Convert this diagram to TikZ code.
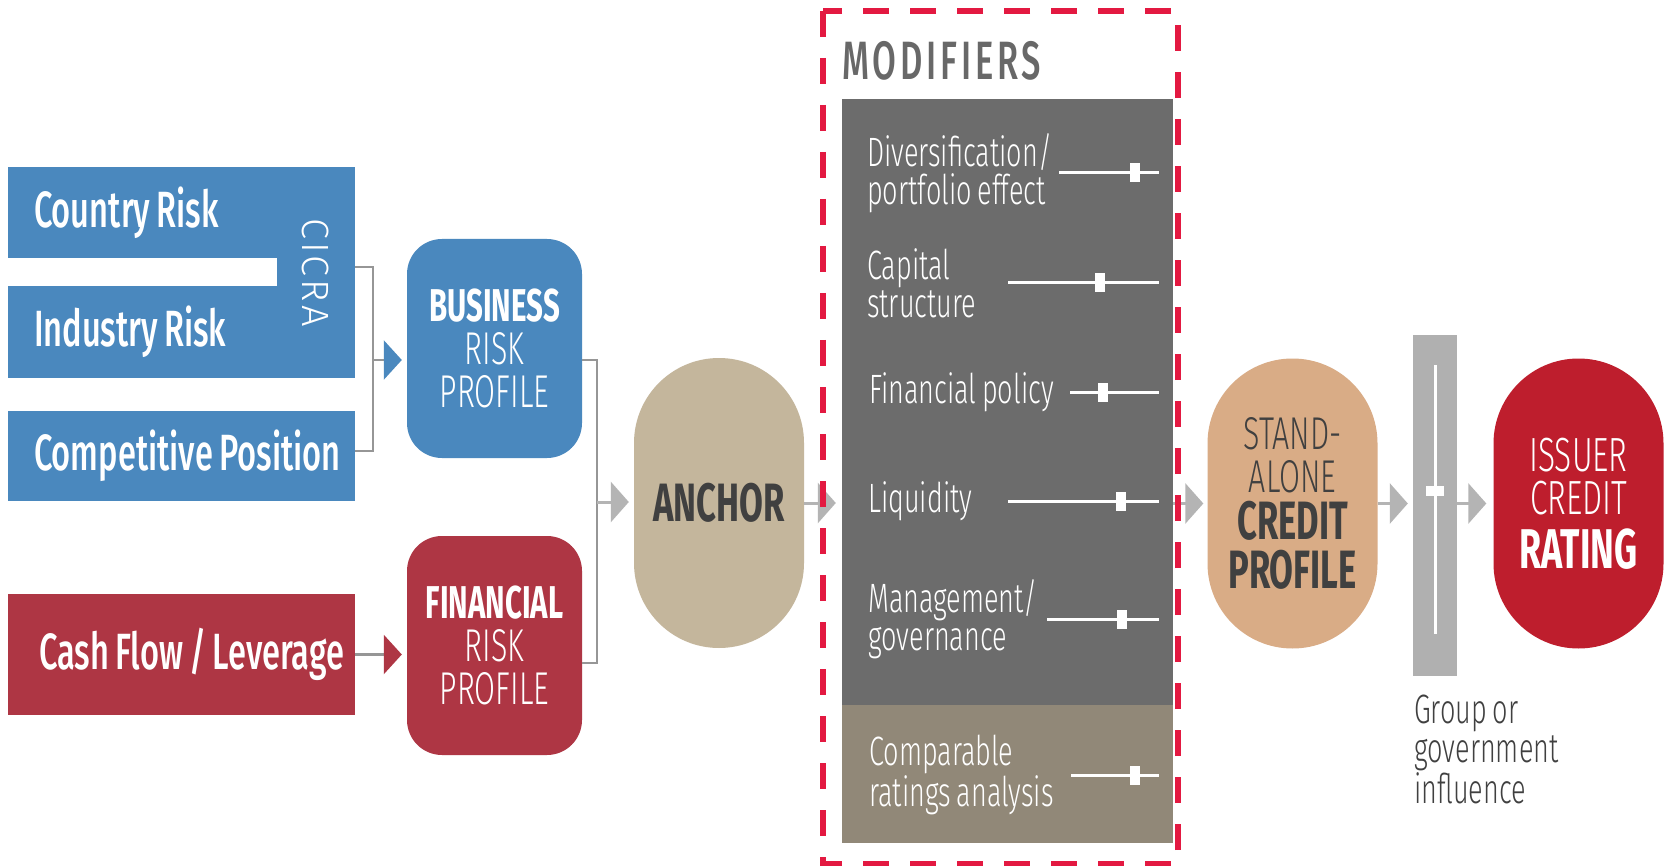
\documentclass[tikz,border=0pt]{standalone}
\usepackage{fontspec}
\setmainfont{Fira Sans}[FakeStretch=0.64, WordSpace=0.75]
\newfontfamily\thinf{Fira Sans Light}[FakeStretch=0.66, WordSpace=0.75]
\newfontfamily\midf{Fira Sans Medium}[FakeStretch=0.64, WordSpace=0.75]
\newfontfamily\wideth{Fira Sans Light}
\newcommand{\boldcond}{\normalfont\bfseries}
\usetikzlibrary{arrows.meta, positioning}

\definecolor{riskblue}{RGB}{74,136,190}
\definecolor{finred}{RGB}{174,54,68}
\definecolor{anchortan}{RGB}{196,182,156}
\definecolor{moddark}{RGB}{108,108,108}
\definecolor{modtan}{RGB}{145,136,120}
\definecolor{sacptan}{RGB}{217,172,134}
\definecolor{issuerred}{RGB}{190,30,45}
\definecolor{flowgray}{RGB}{180,180,180}
\definecolor{bargray}{RGB}{176,176,176}
\definecolor{linkgray}{RGB}{150,150,150}
\definecolor{dashred}{RGB}{227,25,65}
\definecolor{inkgray}{RGB}{64,64,64}
\definecolor{titlegray}{RGB}{104,104,104}

% slider: y, track start, knob centre
\newcommand{\modslider}[3]{%
  \draw[track] (#2,#1) -- (1159,#1);
  \fill[white] (#3-5,#1-9.5) rectangle ++(10,19);
}

\begin{document}
\begin{tikzpicture}[x=1pt, y=-1pt,
  inbox/.style={rectangle, fill=#1, text=white, inner sep=0pt, minimum width=347pt,
    font=\midf\fontsize{51}{51}\selectfont},
  profile/.style={rectangle, rounded corners=35pt, fill=#1, text=white, minimum width=175pt,
    minimum height=219pt, inner sep=0pt, align=center, font=\thinf\fontsize{46}{43}\selectfont},
  pill/.style={rectangle, rounded corners=85pt, fill=#1, minimum width=170pt, minimum height=290pt,
    inner sep=0pt, align=center},
  link/.style={draw=linkgray, line width=2.5pt},
  flow/.style={draw=flowgray, line width=3pt, -{Triangle[width=40pt,length=18pt]}},
  modtext/.style={anchor=west, text=white, inner sep=0pt, align=left, font=\thinf\fontsize{41}{38}\selectfont},
  track/.style={draw=white, line width=3pt}]

  \fill[white] (0,0) rectangle (1675,866);
  \useasboundingbox (0,0) rectangle (1675,866);

  % CICRA block
  \node[inbox=riskblue, minimum height=91pt] (country) at (181.5,212.5) {\makebox[295pt][l]{Country Risk}};
  \node[inbox=riskblue, minimum height=92pt] (industry) at (181.5,332) {\makebox[295pt][l]{Industry Risk}};
  \node[fill=riskblue, rotate=-90, minimum width=211pt, minimum height=78pt, inner sep=0pt, text=white,
    font=\wideth\fontsize{38}{38}\selectfont\addfontfeature{LetterSpace=8}] (cicra) at (316,272.5) {CICRA};
  \node[inbox=riskblue, minimum height=90pt] (compet) at (181.5,456) {\makebox[295pt][l]{Competitive Position}};

  % Cash flow
  \node[inbox=finred, minimum height=121pt] (cash) at (181.5,654.5) {\makebox[285pt][l]{Cash Flow / Leverage}};

  % Risk profiles
  \node[profile=riskblue] (brp) at (494.5,348.5)
    {{\boldcond\fontsize{46}{46}\selectfont BUSINESS}\\RISK\\PROFILE};
  \node[profile=finred] (frp) at (494.5,645.5)
    {{\boldcond\fontsize{46}{46}\selectfont FINANCIAL}\\RISK\\PROFILE};

  \coordinate (bjoin) at (373,360);
  \draw[link] (country.east |- 0,267) -| (bjoin);
  \draw[link] (compet.east |- 0,451) -| (bjoin);
  \draw[link, -{Triangle[width=39pt,length=18pt,color=riskblue]}, shorten >=5pt] (bjoin) -- (bjoin -| brp.west);
  \draw[link, -{Triangle[width=39pt,length=18pt,color=finred]}, shorten >=5pt] (cash.east) -- (cash.east -| frp.west);

  % Anchor
  \node[pill=anchortan, text=inkgray, font=\boldcond\fontsize{54}{54}\selectfont] (anchor) at (719,503) {ANCHOR};

  \coordinate (ajoin) at (597,502);
  \draw[link] ([yshift=-11.5pt]brp.east) -| (ajoin);
  \draw[link] ([yshift=-17.5pt]frp.east) -| (ajoin);
  \draw[flow, shorten >=5pt] (ajoin) -- (ajoin -| anchor.west);

  % Modifiers
  \node[anchor=base west, inner sep=0pt, text=titlegray,
    font=\midf\fontsize{54}{54}\selectfont\addfontfeature{LetterSpace=7}] (modtitle) at (842,80) {MODIFIERS};
  \node[fill=moddark, minimum width=331pt, minimum height=606pt, inner sep=0pt] (modbox) at (1007.5,402) {};
  \node[fill=modtan, minimum width=331pt, minimum height=138pt, inner sep=0pt] (compbox) at (1007.5,774) {};

  \node[modtext] (divers) at (867,173) {Diversification/\\portfolio effect};
  \modslider{173}{1059}{1135}
  \node[modtext] (capital) at (867,283) {Capital\\structure};
  \modslider{283}{1008}{1100}
  \node[modtext] (finpol) at (869,392) {Financial policy};
  \modslider{392}{1070}{1102.5}
  \node[modtext] (liquid) at (868,501) {Liquidity};
  \modslider{501}{1008}{1120.5}
  \node[modtext] (manage) at (868,619) {Management/\\governance};
  \modslider{619}{1047}{1121.5}
  \node[modtext] (compare) at (869,775) {Comparable\\ratings analysis};
  \modslider{775}{1071}{1134.5}

  % Stand-alone credit profile
  \node[pill=sacptan, text=inkgray, font=\thinf\fontsize{46}{43}\selectfont] (sacp) at (1292.5,503.5)
    {STAND-\\ALONE\\[4pt]{\boldcond\fontsize{54}{54}\selectfont CREDIT}\\[6pt]{\boldcond\fontsize{54}{54}\selectfont PROFILE}};

  % Group or government influence
  \node[fill=bargray, minimum width=44pt, minimum height=341pt, inner sep=0pt] (govbar) at (1435,505.5) {};
  \draw[white, line width=3pt] (1435,365) -- (1435,634);
  \fill[white] (1426,486) rectangle (1444,496);
  \node[anchor=north west, inner sep=0pt, align=left, text=inkgray, font=\thinf\fontsize{41}{39}\selectfont]
    (govlabel) at (1414,695) {Group or\\government\\influence};

  % Issuer credit rating
  \node[pill=issuerred, text=white, font=\thinf\fontsize{48}{43}\selectfont] (issuer) at (1578.5,503.5)
    {ISSUER\\CREDIT\\[11pt]{\boldcond\fontsize{56}{56}\selectfont RATING}};

  \draw[flow, shorten >=6pt] (anchor.east) -- (anchor.east -| modbox.west);
  \draw[flow, shorten >=4pt] (sacp.west -| modbox.east) -- (sacp.west);
  \draw[flow, shorten >=5pt] (sacp.east) -- (sacp.east -| govbar.west);
  \draw[flow, shorten >=7pt] (issuer.west -| govbar.east) -- (issuer.west);

  % dashed frame round the modifiers
  \draw[dashred, line width=6pt, dash pattern=on 26pt off 21pt] (823,11) rectangle (1178,864);
\end{tikzpicture}
\end{document}
